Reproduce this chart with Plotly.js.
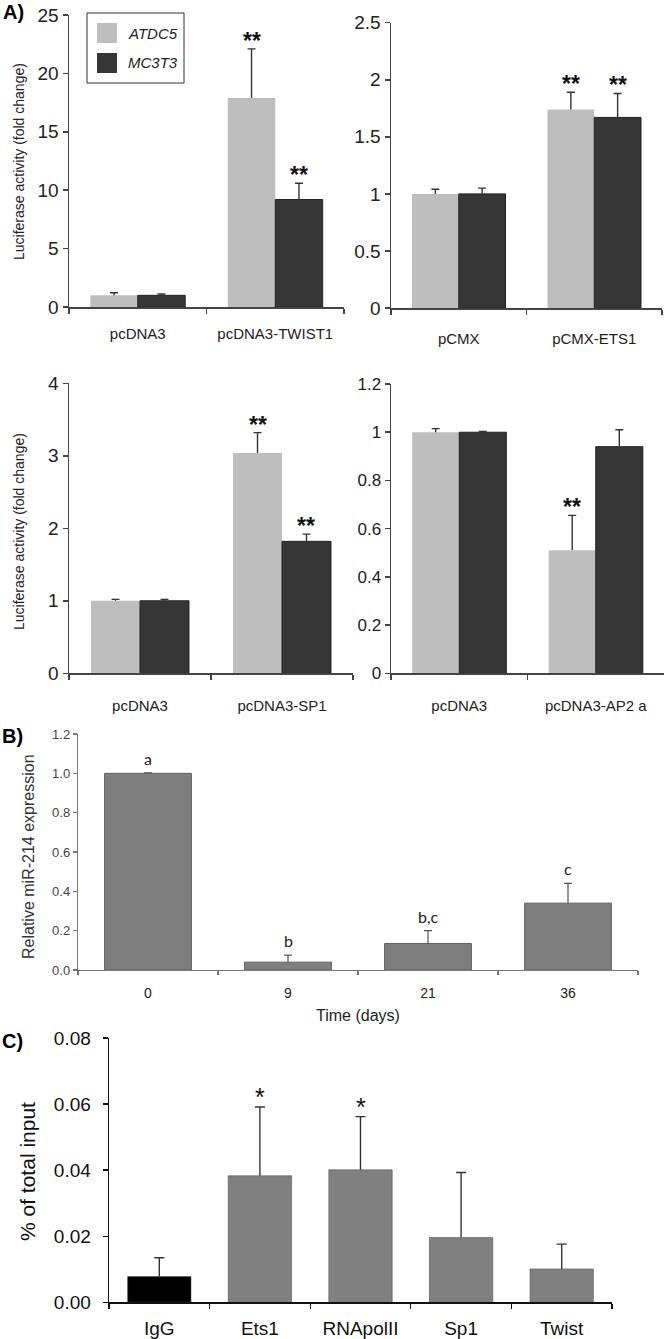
<!DOCTYPE html>
<html><head><meta charset="utf-8">
<script src="https://cdn.plot.ly/plotly-3.0.1.min.js"></script>
<style>html,body{margin:0;padding:0;background:#fff}#chart{width:666px;height:1339px}</style>
</head><body><div id="chart"></div>
<script>
// ---------- DATA ----------
const seriesNames = ["ATDC5", "MC3T3"];

// Panel A1
const a1Categories = ["pcDNA3", "pcDNA3-TWIST1"];
const a1Atdc5 = [1.0, 17.9];
const a1Atdc5Err = [0.22, 4.2];
const a1Mc3t3 = [1.0, 9.2];
const a1Mc3t3Err = [0.11, 1.4];
const a1Atdc5Sig = ["", "**"];
const a1Mc3t3Sig = ["", "**"];
const a1YTicks = [0, 5, 10, 15, 20, 25];

// Panel A2
const a2Categories = ["pCMX", "pCMX-ETS1"];
const a2Atdc5 = [1.0, 1.74];
const a2Atdc5Err = [0.04, 0.15];
const a2Mc3t3 = [1.0, 1.67];
const a2Mc3t3Err = [0.05, 0.21];
const a2Atdc5Sig = ["", "**"];
const a2Mc3t3Sig = ["", "**"];
const a2YTicks = [0, 0.5, 1, 1.5, 2, 2.5];

// Panel A3
const a3Categories = ["pcDNA3", "pcDNA3-SP1"];
const a3Atdc5 = [1.0, 3.04];
const a3Atdc5Err = [0.02, 0.28];
const a3Mc3t3 = [1.0, 1.82];
const a3Mc3t3Err = [0.02, 0.10];
const a3Atdc5Sig = ["", "**"];
const a3Mc3t3Sig = ["", "**"];
const a3YTicks = [0, 1, 2, 3, 4];

// Panel A4
const a4Categories = ["pcDNA3", "pcDNA3-AP2 a"];
const a4Atdc5 = [1.0, 0.51];
const a4Atdc5Err = [0.015, 0.145];
const a4Mc3t3 = [1.0, 0.94];
const a4Mc3t3Err = [0.003, 0.07];
const a4Atdc5Sig = ["", "**"];
const a4Mc3t3Sig = ["", ""];
const a4YTicks = [0, 0.2, 0.4, 0.6, 0.8, 1.0, 1.2];

// Panel B
const bDays = ["0", "9", "21", "36"];
const bValues = [1.0, 0.04, 0.135, 0.34];
const bErr = [0.003, 0.036, 0.065, 0.10];
const bLetters = ["a", "b", "b,c", "c"];
const bYTicks = [0, 0.2, 0.4, 0.6, 0.8, 1.0, 1.2];

// Panel C
const cTargets = ["IgG", "Ets1", "RNApolII", "Sp1", "Twist"];
const cValues = [0.0078, 0.0383, 0.0401, 0.0196, 0.0101];
const cErr = [0.0057, 0.0208, 0.0161, 0.0197, 0.0075];
const cSig = ["", "*", "*", "", ""];
const cYTicks = [0, 0.02, 0.04, 0.06, 0.08];

// ---------- STYLE / LAYOUT HELPERS ----------
const W = 666, H = 1339;
const FONT = "Liberation Sans, Arial, sans-serif";
const LIGHT = "#bebebe", DARK = "#363636";
const BARGAP = 0.31;
const px = x => x / W;
const py = y => 1 - y / H;
const dx = (x0, x1) => [px(x0), px(x1)];
const dy = (yTop, yBot) => [py(yBot), py(yTop)];

function barWithErr(cats, vals, errs, xa, ya, group, marker, errColor, errThick, capW, width, name) {
  const main = {
    type: "bar", name: name, x: cats, y: vals, xaxis: xa, yaxis: ya,
    offsetgroup: group, marker: marker, showlegend: false, hoverinfo: "skip",
    error_y: { type: "data", symmetric: false, array: errs, arrayminus: errs.map(() => 0),
               color: errColor, thickness: errThick, width: 0 }
  };
  const cap = {
    type: "bar", name: name + " cap", x: cats, base: vals.map((v, i) => v + errs[i]),
    y: vals.map(() => 0), xaxis: xa, yaxis: ya, offsetgroup: group,
    marker: { color: "rgba(0,0,0,0)", line: { width: 0 } }, showlegend: false, hoverinfo: "skip",
    error_y: { type: "constant", value: 0, color: errColor, thickness: errThick, width: capW }
  };
  if (width !== undefined) { main.width = width; cap.width = width; }
  return [main, cap];
}

const traces = [];
const annotations = [];

function panelA(idx, cats, s1, e1, s2, e2, sig1, sig2) {
  const xa = idx === 1 ? "x" : "x" + idx;
  const ya = idx === 1 ? "y" : "y" + idx;
  traces.push(...barWithErr(cats, s1, e1, xa, ya, "atdc5",
    { color: LIGHT, line: { color: LIGHT, width: 0 } }, "#333", 1.4, 4, undefined, seriesNames[0]));
  traces.push(...barWithErr(cats, s2, e2, xa, ya, "mc3t3",
    { color: DARK, line: { color: "#222", width: 1 } }, "#333", 1.4, 4, undefined, seriesNames[1]));
  const off = (1 - BARGAP) / 4;
  [[s1, e1, sig1, -off], [s2, e2, sig2, off]].forEach(([s, e, sig, o]) => {
    sig.forEach((t, i) => {
      if (!t) return;
      annotations.push({ xref: xa, yref: ya, x: i + o, y: s[i] + e[i], text: t, showarrow: false,
        xanchor: "center", yanchor: "bottom", yshift: -7,
        font: { family: FONT, size: 23, color: "#111", weight: "bold" } });
    });
  });
}

panelA(1, a1Categories, a1Atdc5, a1Atdc5Err, a1Mc3t3, a1Mc3t3Err, a1Atdc5Sig, a1Mc3t3Sig);
panelA(2, a2Categories, a2Atdc5, a2Atdc5Err, a2Mc3t3, a2Mc3t3Err, a2Atdc5Sig, a2Mc3t3Sig);
panelA(3, a3Categories, a3Atdc5, a3Atdc5Err, a3Mc3t3, a3Mc3t3Err, a3Atdc5Sig, a3Mc3t3Sig);
panelA(4, a4Categories, a4Atdc5, a4Atdc5Err, a4Mc3t3, a4Mc3t3Err, a4Atdc5Sig, a4Mc3t3Sig);

// Panel B
traces.push(...barWithErr(bDays, bValues, bErr, "x5", "y5", "b",
  { color: "#7f7f7f", line: { color: "#606060", width: 1 } }, "#555", 1.2, 4, 0.62, "miR-214"));
bLetters.forEach((t, i) => {
  annotations.push({ xref: "x5", yref: "y5", x: i, y: bValues[i] + bErr[i], text: t, showarrow: false,
    xanchor: "center", yanchor: "bottom", yshift: 3,
    font: { family: "Lato, Open Sans, sans-serif", size: 16, color: "#222" } });
});

// Panel C
traces.push(...barWithErr(cTargets, cValues, cErr, "x6", "y6", "c",
  { color: cTargets.map(t => t === "IgG" ? "#000000" : "#808080"), line: { color: "#555", width: 0.6 } },
  "#333", 1.4, 5, 0.63, "ChIP"));
cSig.forEach((t, i) => {
  if (!t) return;
  annotations.push({ xref: "x6", yref: "y6", x: i, y: cValues[i] + cErr[i], text: t, showarrow: false,
    xanchor: "center", yanchor: "bottom", yshift: -6, font: { family: FONT, size: 25, color: "#111" } });
});

function xAx(domain, anchor, n, o) {
  return Object.assign({
    domain: domain, anchor: anchor, type: "category", range: [-0.5, n - 0.5],
    showline: true, linecolor: "#444", linewidth: 1.5, ticks: "outside", tickson: "boundaries",
    ticklen: 5, tickcolor: "#444", tickwidth: 1.5, showgrid: false, zeroline: false, fixedrange: true,
    tickfont: { family: FONT, size: 15, color: "#222" }
  }, o);
}
function yAx(domain, anchor, range, tv, o) {
  return Object.assign({
    domain: domain, anchor: anchor, range: range, tickvals: tv,
    showline: true, linecolor: "#444", linewidth: 1.5, ticks: "outside", ticklen: 5,
    tickcolor: "#444", tickwidth: 1.5, showgrid: false, zeroline: false, fixedrange: true,
    tickfont: { family: FONT, size: 19, color: "#222" }
  }, o);
}

function paperText(x, y, text, font, extra) {
  return Object.assign({ xref: "paper", yref: "paper", x: px(x), y: py(y), text: text, showarrow: false,
    xanchor: "center", yanchor: "middle", font: font }, extra || {});
}

// Y titles, x title, panel labels, legend labels
annotations.push(
  paperText(19, 162, "Luciferase activity (fold change)", { family: FONT, size: 14, color: "#222" }, { textangle: -90 }),
  paperText(19, 532, "Luciferase activity (fold change)", { family: FONT, size: 14, color: "#222" }, { textangle: -90 }),
  paperText(28, 857, "Relative miR-214 expression", { family: FONT, size: 16, color: "#333" }, { textangle: -90 }),
  paperText(358, 1015, "Time (days)", { family: FONT, size: 16, color: "#222" }),
  paperText(27, 1172, "% of total input", { family: FONT, size: 21, color: "#111" }, { textangle: -90 }),
  paperText(1, 12, "A)", { family: FONT, size: 20, color: "#000", weight: "bold" }, { xanchor: "left" }),
  paperText(0, 736, "B)", { family: FONT, size: 20, color: "#000", weight: "bold" }, { xanchor: "left" }),
  paperText(0, 1041, "C)", { family: FONT, size: 20, color: "#000", weight: "bold" }, { xanchor: "left" }),
  paperText(126, 33, seriesNames[0], { family: FONT, size: 15, color: "#222", style: "italic" }, { xanchor: "left" }),
  paperText(126, 63, seriesNames[1], { family: FONT, size: 15, color: "#222", style: "italic" }, { xanchor: "left" })
);

const shapes = [
  { type: "rect", xref: "paper", yref: "paper", x0: px(87), x1: px(184), y0: py(83), y1: py(13),
    line: { color: "#333", width: 1 }, fillcolor: "#fff", layer: "above" },
  { type: "rect", xref: "paper", yref: "paper", x0: px(97), x1: px(117), y0: py(43), y1: py(23),
    line: { width: 0 }, fillcolor: LIGHT, layer: "above" },
  { type: "rect", xref: "paper", yref: "paper", x0: px(97), x1: px(117), y0: py(73), y1: py(53),
    line: { width: 0 }, fillcolor: DARK, layer: "above" }
];

const layout = {
  width: W, height: H, margin: { l: 0, r: 0, t: 0, b: 0 },
  paper_bgcolor: "#fff", plot_bgcolor: "rgba(0,0,0,0)",
  barmode: "group", bargap: BARGAP, bargroupgap: 0, showlegend: false,
  font: { family: FONT, color: "#222" },
  xaxis: xAx(dx(69, 344), "y", a1Categories.length, { ticklabelstandoff: 12 }),
  yaxis: yAx(dy(15, 307), "x", [0, 25], a1YTicks, {}),
  xaxis2: xAx(dx(391, 662), "y2", a2Categories.length, { ticklabelstandoff: 16 }),
  yaxis2: yAx(dy(22.7, 308), "x2", [0, 2.5], a2YTicks, {}),
  xaxis3: xAx(dx(69, 353), "y3", a3Categories.length, { ticklabelstandoff: 18 }),
  yaxis3: yAx(dy(383.3, 673.3), "x3", [0, 4], a3YTicks, {}),
  xaxis4: xAx(dx(391, 664), "y4", a4Categories.length, { ticklabelstandoff: 18 }),
  yaxis4: yAx(dy(384, 673.3), "x4", [0, 1.2], a4YTicks, { tickfont: { family: FONT, size: 17, color: "#222" } }),
  xaxis5: xAx(dx(78, 638), "y5", bDays.length, { linecolor: "#777", linewidth: 1.2, tickcolor: "#777", tickwidth: 1.2,
    ticklen: 4, ticklabelstandoff: 10, tickfont: { family: FONT, size: 14, color: "#222" } }),
  yaxis5: yAx(dy(734, 970), "x5", [0, 1.2], bYTicks, { tickformat: ".1f", linecolor: "#777", linewidth: 1.2,
    tickcolor: "#777", tickwidth: 1.2, ticklen: 4, tickfont: { family: FONT, size: 13, color: "#444" } }),
  xaxis6: xAx(dx(109, 612), "y6", cTargets.length, { linecolor: "#111", linewidth: 1.4, tickcolor: "#111",
    tickwidth: 1.4, ticklen: 5, ticklabelstandoff: 8, tickfont: { family: FONT, size: 19, color: "#111" } }),
  yaxis6: yAx(dy(1038, 1302.3), "x6", [0, 0.08], cYTicks, { tickformat: ".2f", linecolor: "#111", linewidth: 1.4,
    tickcolor: "#111", tickwidth: 1.4, ticklen: 5, ticklabelstandoff: 8, tickfont: { family: FONT, size: 19, color: "#111" } }),
  annotations: annotations,
  shapes: shapes
};

Plotly.newPlot("chart", traces, layout, { staticPlot: true, displayModeBar: false });
</script>
</body></html>
